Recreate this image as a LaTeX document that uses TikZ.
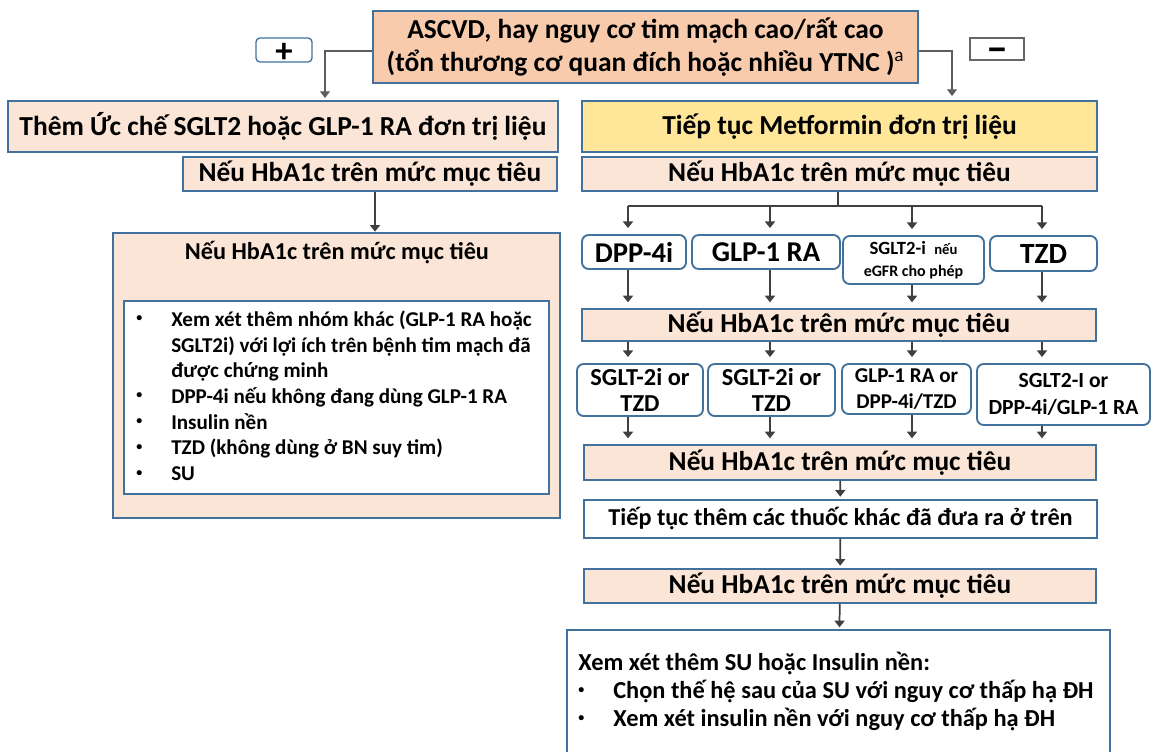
\documentclass[tikz,border=0pt]{standalone}
\usepackage{fontspec}
\setmainfont{Carlito}
\usetikzlibrary{arrows.meta}

\definecolor{edgeblue}{HTML}{41719C}
\definecolor{peach}{HTML}{F8CBAD}
\definecolor{pale}{HTML}{FBE5D6}
\definecolor{butter}{HTML}{FFE699}
\definecolor{ink}{HTML}{404040}

\newcommand{\dotmark}{\raisebox{0.22em}{\fontsize{9}{9}\selectfont\textbullet}}

\tikzset{
	wh/.style 2 args = {minimum width = #1*0.75pt, minimum height = #2*0.75pt},
	box/.style = {draw = edgeblue, line width = 1pt, fill = pale, inner sep = 0pt, align = center},
	drug/.style = {box, fill = white, rounded corners = 5pt, line width = 1.4pt},
	wire/.style = {draw = ink, line width = 1.3pt},
	arr/.style = {wire, -{Triangle[width = 7.5pt, length = 5pt]}, shorten > = 4.5pt},
	link/.style = {draw = ink!85, line width = 0.9pt, -{Triangle[width = 7.5pt, length = 5pt]}},
	pt/.style = {font = \bfseries\fontsize{#1}{#1}\selectfont}
}

\begin{document}
\begin{tikzpicture}[x = 0.75pt, y = -0.75pt]
	\useasboundingbox (0,0) rectangle (1151,751);

	\node[box, fill = peach, wh = {545}{72}, font = \bfseries\fontsize{20.6}{24.75}\selectfont] (TOP) at (645.5,47)
		{ASCVD, hay nguy cơ tim mạch cao/rất cao\\(tổn thương cơ quan đích hoặc nhiều YTNC )\textsuperscript{\mdseries a}};
	\node[box, fill = white, rounded corners = 3pt, wh = {56}{24}, pt = 26] (PLUS) at (284,50)
		{\raisebox{-2pt}[\height][\depth]{+}};
	\node[box, fill = white, draw = ink!80, line width = 1.5pt, wh = {54}{22}, pt = 30] (MINUS) at (997,49)
		{\raisebox{-5pt}[\height][\depth]{−}};
	\coordinate (LT) at (325,98);
	\coordinate (RT) at (952,96);
	\draw[link] ([yshift = -3pt]TOP.west) -| (LT);
	\draw[link] ([yshift = -3pt]TOP.east) -| (RT);

	% left branch
	\node[box, wh = {550}{51}, pt = 20.6] (ADD) at (283,126.5) {Thêm Ức chế SGLT2 hoặc GLP-1 RA đơn trị liệu};
	\node[box, wh = {374}{34}, pt = 20.5] (LHB) at (370,174) {Nếu HbA1c trên mức mục tiêu};
	\node[box, wh = {447}{285}] (LBIG) at (336.5,375.5) {};
	\node[pt = 18.2] (LTITLE) at (337,253) {Nếu HbA1c trên mức mục tiêu};
	\node[box, fill = white, wh = {425}{193}] (LLIST) at (336.5,397.5) {};
	\node[anchor = north west, inner sep = 0pt, font = \bfseries\fontsize{15.8}{19.3}\selectfont] (LTEXT) at (136,308)
		{\begin{tabular}{@{}p{26.25pt}@{}l@{}}
			\dotmark & Xem xét thêm nhóm khác (GLP-1 RA hoặc\\
			& SGLT2i) với lợi ích trên bệnh tim mạch đã\\
			& được chứng minh\\
			\dotmark & DPP-4i nếu không đang dùng GLP-1 RA\\
			\dotmark & Insulin nền\\
			\dotmark & TZD (không dùng ở BN suy tim)\\
			\dotmark & SU
		\end{tabular}};
	\coordinate (LA) at ([xshift = 3.75pt]LHB.south);
	\draw[arr, shorten > = 0.5pt] (LA) -- (LA |- LBIG.north);

	% right branch
	\node[box, fill = butter, wh = {515}{51}, pt = 20.6] (MET) at (839.5,126.5) {Tiếp tục Metformin đơn trị liệu};
	\node[box, wh = {515}{34}, pt = 20.5] (RHB1) at (839.5,174) {Nếu HbA1c trên mức mục tiêu};
	\node[drug, wh = {104}{34}, pt = 21.5] (DPP) at (634,252) {DPP-4i};
	\node[drug, wh = {148}{34}, pt = 21.5] (GLP) at (766,252) {GLP-1 RA};
	\node[drug, wh = {141}{48}, font = \bfseries\fontsize{14}{16.5}\selectfont] (SGL) at (913.5,260)
		{SGLT2-i \ {\fontsize{11}{16.5}\selectfont nếu}\\{\fontsize{12}{16.5}\selectfont eGFR cho phép}};
	\node[drug, wh = {107}{35}, pt = 22] (TZD) at (1043.5,253.5) {TZD};
	\node[box, wh = {514}{32}, pt = 20.5] (RHB2) at (839,325) {Nếu HbA1c trên mức mục tiêu};
	\node[drug, wh = {126}{52}, font = \bfseries\fontsize{18.3}{20}\selectfont] (C1) at (640,390) {SGLT-2i or\\TZD};
	\node[drug, wh = {127}{52}, font = \bfseries\fontsize{18.3}{20}\selectfont] (C2) at (771.5,390) {SGLT-2i or\\TZD};
	\node[drug, wh = {129}{50}, font = \bfseries\fontsize{15.8}{19}\selectfont] (C3) at (906.5,389) {GLP-1 RA or\\DPP-4i/TZD};
	\node[drug, wh = {173}{61}, font = \bfseries\fontsize{16.2}{20}\selectfont] (C4) at (1063.5,394.5) {SGLT2-I or\\DPP-4i/GLP-1 RA};
	\node[box, wh = {512}{35}, pt = 20.5] (RHB3) at (840,462.5) {Nếu HbA1c trên mức mục tiêu};
	\node[box, fill = white, wh = {513}{38}, pt = 18.2] (CONT) at (840.5,519) {Tiếp tục thêm các thuốc khác đã đưa ra ở trên};
	\node[box, wh = {512}{34}, pt = 20.5] (RHB4) at (840,586) {Nếu HbA1c trên mức mục tiêu};
	\node[box, fill = white, wh = {543}{140}] (LAST) at (838.5,700) {};
	\node[anchor = north west, inner sep = 0pt, font = \bfseries\fontsize{18.3}{21}\selectfont] (LASTTXT) at (578,651)
		{\begin{tabular}{@{}p{26.25pt}@{}l@{}}
			\multicolumn{2}{@{}l@{}}{Xem xét thêm SU hoặc Insulin nền:}\\
			\dotmark & Chọn thế hệ sau của SU với nguy cơ thấp hạ ĐH\\
			\dotmark & Xem xét insulin nền với nguy cơ thấp hạ ĐH
		\end{tabular}};

	\coordinate (K1) at (628,0);
	\coordinate (K2) at (770,0);
	\coordinate (K3) at (912,0);
	\coordinate (K4) at (1042,0);
	\draw[wire] ([xshift = -1.1pt]RHB1.south) -- ++(0,14) coordinate (F);
	\draw[wire] (F -| K1) -- (F -| K4);
	\foreach \up/\dn/\k in {F/DPP/K1, F/GLP/K2, F/SGL/K3, F/TZD/K4}
		\draw[arr] (\up -| \k) -- (\dn.north -| \k);
	\foreach \up/\k in {DPP/K1, GLP/K2, SGL/K3, TZD/K4}
		\draw[arr] (\up.south -| \k) -- (RHB2.north -| \k);
	\foreach \dn/\k in {C1/K1, C2/K2, C3/K3, C4/K4}
		\draw[arr] (RHB2.south -| \k) -- (\dn.north -| \k);
	\foreach \up/\k in {C1/K1, C2/K2, C3/K3, C4/K4}
		\draw[arr] (\up.south -| \k) -- (RHB3.north -| \k);
	\draw[arr, shorten > = 2pt] (RHB3) -- (CONT);
	\draw[arr, shorten > = 2pt] (CONT) -- (RHB4);
	\draw[arr, shorten > = 1.5pt] (RHB4) -- (LAST);
\end{tikzpicture}
\end{document}
